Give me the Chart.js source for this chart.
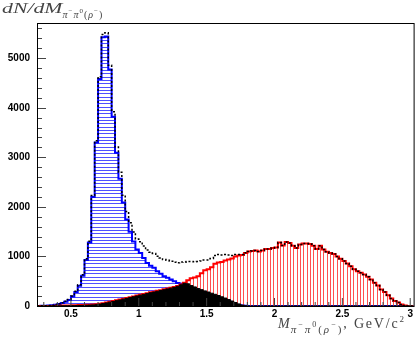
<!DOCTYPE html>
<html>
<head>
<meta charset="utf-8">
<script src="https://cdn.jsdelivr.net/npm/chart.js@4.4.1/dist/chart.umd.min.js"></script>
<style>
  body { margin: 0; background: #fff; }
</style>
</head>
<body>
<canvas id="massChart" width="415" height="338"></canvas>
<script>
// binning of the pi- pi0 invariant mass histograms (GeV/c^2)
var binLow = 0.25;
var binWidth = 0.025;
var xMax = 3.025;
var yMax = 5710;

var xTickLabels = [0.5, 1, 1.5, 2, 2.5, 3];
var yTickLabels = [0, 1000, 2000, 3000, 4000, 5000];

// rho(770) peak, blue
var rhoCounts = [
    0, 0, 3, 5, 8, 15, 25, 40, 60, 85,
    120, 190, 280, 410, 610, 930, 1280, 2200, 3300, 4580,
    5420, 5440, 4770, 3820, 3090, 2570, 2090, 1745, 1500, 1300,
    1140, 1070, 970, 870, 810, 770, 700, 650, 600, 570,
    535, 500, 465, 450, 420, 380, 340, 320, 300, 250,
    210, 190, 180, 170, 160, 140, 120, 90, 60, 40,
    20, 10, 3, 0, 0, 0, 0, 0, 0, 0,
    0, 0, 0, 0, 0, 0, 0, 0, 0, 0,
    0, 0, 0, 0, 0, 0, 0, 0, 0, 0,
    0, 0, 0, 0, 0, 0, 0, 0, 0, 0,
    0, 0, 0, 0, 0, 0, 0, 0, 0, 0, 0
];

// high mass part, red
var highCounts = [
    0, 0, 0, 0, 0, 0, 4, 6, 8, 10,
    12, 14, 16, 18, 20, 23, 26, 30, 35, 46,
    58, 71, 86, 100, 116, 130, 146, 162, 178, 194,
    211, 226, 242, 258, 276, 290, 306, 320, 336, 352,
    368, 384, 406, 436, 470, 520, 560, 575, 600, 660,
    720, 740, 780, 850, 880, 890, 920, 940, 960, 1000,
    1020, 1030, 1070, 1100, 1110, 1120, 1100, 1120, 1150, 1150,
    1170, 1180, 1280, 1220, 1290, 1270, 1215, 1170, 1240, 1260,
    1260, 1250, 1215, 1150, 1215, 1140, 1095, 1070, 1050, 1000,
    955, 910, 860, 800, 740, 700, 670, 635, 590, 535,
    470, 415, 335, 280, 215, 150, 100, 70, 30, 10, 0
];

// black filled part
var bgCounts = [
    0, 0, 0, 0, 0, 0, 2, 3, 4, 5,
    6, 7, 8, 10, 12, 15, 18, 22, 27, 38,
    50, 63, 78, 92, 108, 122, 138, 154, 170, 186,
    203, 218, 234, 250, 268, 282, 298, 312, 328, 344,
    360, 376, 398, 428, 458, 448, 412, 385, 352, 330,
    305, 282, 258, 236, 212, 186, 160, 130, 100, 70,
    42, 18, 5, 0, 0, 0, 0, 0, 0, 0,
    0, 0, 0, 0, 0, 0, 0, 0, 0, 0,
    0, 0, 0, 0, 0, 0, 0, 0, 0, 0,
    0, 0, 0, 0, 0, 0, 0, 0, 0, 0,
    0, 0, 0, 0, 0, 0, 0, 0, 0, 0, 0
];

// sum, black dotted
var totalCounts = [
    0, 0, 3, 5, 8, 15, 29, 46, 68, 95,
    132, 204, 296, 428, 630, 953, 1306, 2230, 3335, 4626,
    5478, 5511, 4856, 3920, 3206, 2700, 2236, 1907, 1678, 1494,
    1351, 1296, 1212, 1128, 1086, 1060, 1006, 970, 936, 922,
    903, 884, 871, 886, 890, 900, 900, 895, 900, 910,
    930, 930, 960, 1020, 1040, 1030, 1040, 1030, 1020, 1040,
    1040, 1040, 1073, 1100, 1110, 1120, 1100, 1120, 1150, 1150,
    1170, 1180, 1280, 1220, 1290, 1270, 1215, 1170, 1240, 1260,
    1260, 1250, 1215, 1150, 1215, 1140, 1095, 1070, 1050, 1000,
    955, 910, 860, 800, 740, 700, 670, 635, 590, 535,
    470, 415, 335, 280, 215, 150, 100, 70, 30, 10, 0
];

// one point per bin low edge, plus the closing edge
function steps(counts) {
    var pts = counts.map(function (c, i) {
        return { x: binLow + i * binWidth, y: c };
    });
    pts.push({ x: binLow + counts.length * binWidth, y: counts[counts.length - 1] });
    return pts;
}

var canvas = document.getElementById('massChart');
var ctx0 = canvas.getContext('2d');

function makeHatch(color, vertical) {
    var c = document.createElement('canvas');
    c.width = 10;
    c.height = 10;
    var g = c.getContext('2d');
    g.fillStyle = color;
    [0, 3, 7].forEach(function (p) {
        if (vertical) g.fillRect(p, 0, 1, 10);
        else g.fillRect(0, p, 10, 1);
    });
    return ctx0.createPattern(c, 'repeat');
}

var blueHatch = makeHatch('rgb(80,80,255)', false);
var redHatch = makeHatch('rgb(255,80,80)', true);

var tickFont = { family: '"Liberation Sans", Arial, sans-serif', size: 10, weight: 'bold' };

// text pieces one after another; sx stretches a piece sideways
function drawRuns(ctx, x, y, runs) {
    runs.forEach(function (r) {
        var sx = r.sx || 1;
        ctx.font = r.font;
        ctx.letterSpacing = (r.ls || 0) + 'px';
        ctx.save();
        ctx.translate(x, y + (r.dy || 0));
        ctx.scale(sx, 1);
        ctx.fillText(r.t, 0, 0);
        ctx.restore();
        x += ctx.measureText(r.t).width * sx;
    });
    ctx.letterSpacing = '0px';
}

var SERIF = '"Liberation Serif", "Times New Roman", serif';

// ROOT-like frame, inner ticks and latex titles
var rootFrame = {
    id: 'rootFrame',
    afterDatasetsDraw: function (chart) {
        var ctx = chart.ctx, a = chart.chartArea;
        var xs = chart.scales.x, ys = chart.scales.y;
        ctx.save();
        ctx.lineWidth = 1;
        ctx.strokeStyle = '#444';
        ctx.beginPath();
        for (var k = 3; k <= 30; k++) {
            var px = xs.getPixelForValue(k / 10);
            var len = (k % 5 === 0) ? 8 : 4;
            ctx.moveTo(px, a.bottom);
            ctx.lineTo(px, a.bottom - len);
        }
        for (var j = 0; j <= 28; j++) {
            var py = Math.round(ys.getPixelForValue(j * 200)) + 0.5;
            var l2 = (j % 5 === 0) ? 9 : 5;
            ctx.moveTo(a.left, py);
            ctx.lineTo(a.left + l2, py);
        }
        ctx.stroke();
        ctx.strokeStyle = '#000';
        ctx.strokeRect(a.left + 0.5, a.top + 0.5, a.right - a.left, a.bottom - a.top);
        ctx.restore();
    },
    afterDraw: function (chart) {
        var ctx = chart.ctx;
        ctx.save();
        ctx.fillStyle = '#444';
        ctx.textBaseline = 'alphabetic';
        drawRuns(ctx, 2, 13, [
            { t: 'dN/dM', font: 'italic 15px ' + SERIF, sx: 1.45 },
            { t: '\u03c0', font: 'italic 10px ' + SERIF, dy: 4.5, ls: 1 },
            { t: '\u2212', font: '7px ' + SERIF, dy: 0, ls: 1 },
            { t: '\u03c0', font: 'italic 10px ' + SERIF, dy: 4.5, ls: 1 },
            { t: '0', font: '7px ' + SERIF, dy: 0, ls: 1 },
            { t: '(', font: '10px ' + SERIF, dy: 4.5, ls: 1 },
            { t: '\u03c1', font: 'italic 10px ' + SERIF, dy: 4.5, ls: 1 },
            { t: '\u2212', font: '7px ' + SERIF, dy: 0, ls: 1 },
            { t: ')', font: '10px ' + SERIF, dy: 4.5 }
        ]);
        drawRuns(ctx, 278, 328, [
            { t: 'M', font: 'italic 14px ' + SERIF, ls: 1 },
            { t: '\u03c0', font: 'italic 11px ' + SERIF, dy: 5, ls: 2 },
            { t: '\u2212', font: '8px ' + SERIF, dy: -1, ls: 2 },
            { t: '\u03c0', font: 'italic 11px ' + SERIF, dy: 5, ls: 2 },
            { t: '0', font: '8px ' + SERIF, dy: -1, ls: 2 },
            { t: '(', font: '11px ' + SERIF, dy: 5, ls: 2 },
            { t: '\u03c1', font: 'italic 11px ' + SERIF, dy: 5, ls: 2 },
            { t: '\u2212', font: '8px ' + SERIF, dy: -1, ls: 2 },
            { t: ')', font: '11px ' + SERIF, dy: 5, ls: 2 },
            { t: ', GeV/c', font: '14px ' + SERIF, ls: 1.8 },
            { t: '2', font: '9px ' + SERIF, dy: -6 }
        ]);
        ctx.restore();
    }
};

new Chart(canvas, {
    type: 'line',
    data: {
        datasets: [
            { label: 'sum', data: steps(totalCounts), borderColor: '#000', borderWidth: 1.5,
              borderDash: [2, 2], fill: false, order: 0 },
            { label: 'black', data: steps(bgCounts), borderColor: '#000', borderWidth: 1,
              backgroundColor: '#000', fill: 'origin', order: 1 },
            { label: 'red', data: steps(highCounts), borderColor: '#ff0000', borderWidth: 2,
              backgroundColor: redHatch, fill: 'origin', order: 2 },
            { label: 'blue', data: steps(rhoCounts), borderColor: '#0000ff', borderWidth: 2,
              backgroundColor: blueHatch, fill: 'origin', order: 3 }
        ]
    },
    options: {
        responsive: false,
        animation: false,
        devicePixelRatio: 1,
        layout: { padding: { top: 23, right: 1, left: 0, bottom: 0 } },
        elements: {
            point: { radius: 0 },
            line: { stepped: 'after', tension: 0 }
        },
        plugins: {
            legend: { display: false },
            tooltip: { enabled: false }
        },
        scales: {
            x: {
                type: 'linear',
                min: binLow,
                max: xMax,
                grid: { display: false, drawTicks: false },
                border: { display: false },
                afterBuildTicks: function (s) {
                    s.ticks = xTickLabels.map(function (v) { return { value: v }; });
                },
                afterFit: function (s) { s.height = 32; },
                ticks: {
                    padding: 2, color: '#000', font: tickFont, maxRotation: 0, autoSkip: false,
                    callback: function (v) { return String(v); }
                }
            },
            y: {
                type: 'linear',
                min: 0,
                max: yMax,
                grid: { display: false, drawTicks: false },
                border: { display: false },
                afterBuildTicks: function (s) {
                    s.ticks = yTickLabels.map(function (v) { return { value: v }; });
                },
                afterFit: function (s) { s.width = 37; },
                ticks: {
                    padding: 7, color: '#000', font: tickFont, autoSkip: false,
                    callback: function (v) { return String(v); }
                }
            }
        }
    },
    plugins: [rootFrame]
});
</script>
</body>
</html>
